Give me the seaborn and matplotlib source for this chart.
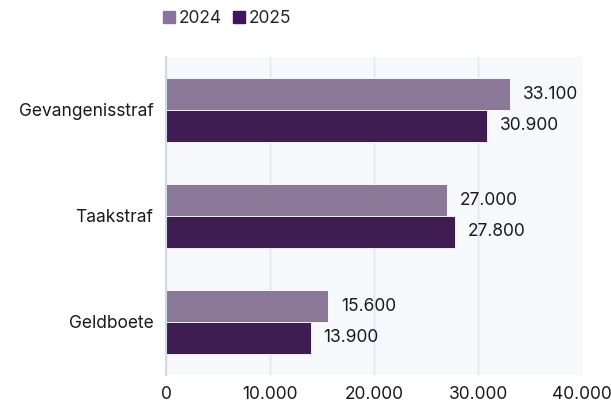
import seaborn as sns
import matplotlib.pyplot as plt
import pandas as pd
import numpy as np
from matplotlib.lines import Line2D
from matplotlib.ticker import FuncFormatter

sns.set_style("white")
plt.rcParams['font.family'] = ['Inter', 'DejaVu Sans']

categories = ["Gevangenisstraf", "Taakstraf", "Geldboete"]
years = ["2024", "2025"]
values_2024 = [33100, 27000, 15600]
values_2025 = [30900, 27800, 13900]
colors = ["#8c729e", "#41145c"]

df = pd.DataFrame({
    "Categorie": categories * 2,
    "Jaar": [years[0]] * 3 + [years[1]] * 3,
    "Aantal": values_2024 + values_2025,
})

def nl(v):
    return f"{v:,.0f}".replace(",", ".")

FS = 12.5

fig = plt.figure(figsize=(6.11, 4.05), dpi=100)
ax = fig.add_axes([166 / 611, 1 - 375 / 405, (582 - 166) / 611, (375 - 57) / 405])
ax.set_facecolor("#f7f9fc")

sns.barplot(
    data=df, y="Categorie", x="Aantal", hue="Jaar",
    palette=colors, orient="h", width=0.6, gap=0,
    edgecolor="#ffffff", linewidth=0.6, ax=ax, legend=False,
)

for cont in ax.containers:
    ax.bar_label(cont, labels=[nl(v) for v in cont.datavalues],
                 padding=9, fontsize=FS, color="#1a1a1a")

ax.set_xlim(0, 40000)
ax.set_ylim(2.5, -0.5)
ax.set_xticks([0, 10000, 20000, 30000, 40000])
ax.xaxis.set_major_formatter(FuncFormatter(lambda v, p: nl(v)))
ax.grid(axis="x", color="#dce4ee", linewidth=1)
ax.set_axisbelow(True)
ax.set_xlabel("")
ax.set_ylabel("")

ax.set_yticks([0.5, 1.5], minor=True)
ax.tick_params(axis="y", which="minor", length=5, color="#d0dae6", width=1)
ax.tick_params(axis="y", which="major", length=0, pad=9, labelsize=FS, labelcolor="#1a1a1a")
ax.tick_params(axis="x", length=0, pad=8, labelsize=FS, labelcolor="#1a1a1a")

for s in ["top", "right", "bottom"]:
    ax.spines[s].set_visible(False)
ax.spines["left"].set_color("#d0dae6")
ax.spines["left"].set_linewidth(1.5)

handles = [Line2D([0], [0], marker="s", linestyle="", markersize=9,
                  markerfacecolor=c, markeredgecolor=c) for c in colors]
fig.legend(handles, years, loc="upper left", bbox_to_anchor=(145 / 611, 1 + 6 / 405),
           ncol=2, frameon=False, fontsize=FS, handletextpad=0.05,
           columnspacing=0.5, handlelength=1.0)

plt.savefig("out.png", dpi=100)
